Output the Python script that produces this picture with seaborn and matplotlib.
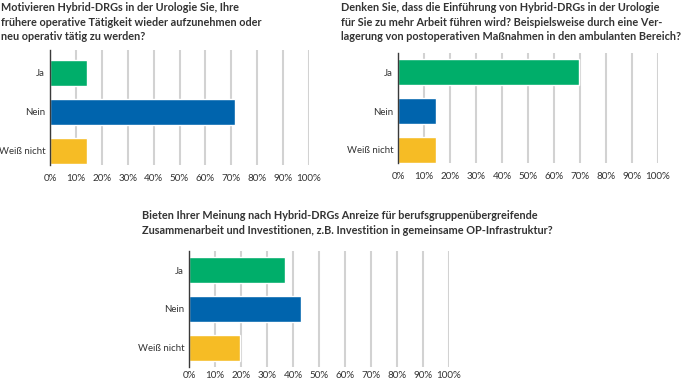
import matplotlib
matplotlib.use("Agg")
import matplotlib.pyplot as plt
import seaborn as sns
import pandas as pd

# answers and shares (%)
categories = ["Ja", "Nein", "Weiß nicht"]
q1_values = [14.3, 71.4, 14.3]
q2_values = [69.6, 14.6, 14.6]
q3_values = [36.8, 43.2, 19.6]
x_ticks = [0, 10, 20, 30, 40, 50, 60, 70, 80, 90, 100]

titles = [
    "Motivieren Hybrid-DRGs in der Urologie Sie, Ihre\n"
    "frühere operative Tätigkeit wieder aufzunehmen oder\n"
    "neu operativ tätig zu werden?",
    "Denken Sie, dass die Einführung von Hybrid-DRGs in der Urologie\n"
    "für Sie zu mehr Arbeit führen wird? Beispielsweise durch eine Ver-\n"
    "lagerung von postoperativen Maßnahmen in den ambulanten Bereich?",
    "Bieten Ihrer Meinung nach Hybrid-DRGs Anreize für berufsgruppenübergreifende\n"
    "Zusammenarbeit und Investitionen, z.B. Investition in gemeinsame OP-Infrastruktur?",
]

colors = {"Ja": "#00AE6A", "Nein": "#0064AD", "Weiß nicht": "#F6BC25"}

sns.set_style("white")
plt.rcParams["font.family"] = ["Lato", "DejaVu Sans"]

W, H = 685, 381
fig = plt.figure(figsize=(W / 100, H / 100), dpi=100)


def px_axes(x0, x1, y0, y1):
    return fig.add_axes([x0 / W, 1 - y1 / H, (x1 - x0) / W, (y1 - y0) / H])


# (axes box in px, ylim, title position, values, x tick pad)
panels = [
    ((50, 309, 50, 165), (2.36, -0.59), (1, 2), q1_values, 6.5),
    ((398, 658, 53, 163), (2.34, -0.5), (341, 2), q2_values, 6.5),
    ((189, 449, 251, 367), (2.49, -0.49), (142, 210), q3_values, 3.0),
]

for (box, ylim, tpos, vals, xpad), title in zip(panels, titles):
    ax = px_axes(*box)
    df = pd.DataFrame({"Antwort": categories, "Anteil": vals})
    sns.barplot(data=df, x="Anteil", y="Antwort", hue="Antwort",
                palette=colors, orient="h", width=0.67, legend=False,
                saturation=1, ax=ax, zorder=3)
    ax.set_xlim(0, 100)
    ax.set_ylim(*ylim)
    ax.set_xticks(x_ticks)
    ax.set_xticklabels([f"{t}%" for t in x_ticks])
    ax.grid(axis="x", color="#D2D2D2", linewidth=1.5, zorder=0)
    ax.set_axisbelow(True)
    for s in ["top", "right", "bottom"]:
        ax.spines[s].set_visible(False)
    ax.spines["left"].set_color("#3A3A3A")
    ax.spines["left"].set_linewidth(1.0)
    ax.spines["left"].set_zorder(4)
    ax.tick_params(axis="x", length=0, labelsize=7.1, colors="#333333",
                   pad=xpad)
    ax.tick_params(axis="y", length=0, labelsize=6.9, colors="#333333",
                   pad=3.5)
    ax.set_xlabel("")
    ax.set_ylabel("")
    fig.text(tpos[0] / W, 1 - tpos[1] / H, title, ha="left", va="top",
             fontsize=7.8, fontweight="bold", color="#333333",
             linespacing=1.4)

fig.savefig("out.png", dpi=100)
